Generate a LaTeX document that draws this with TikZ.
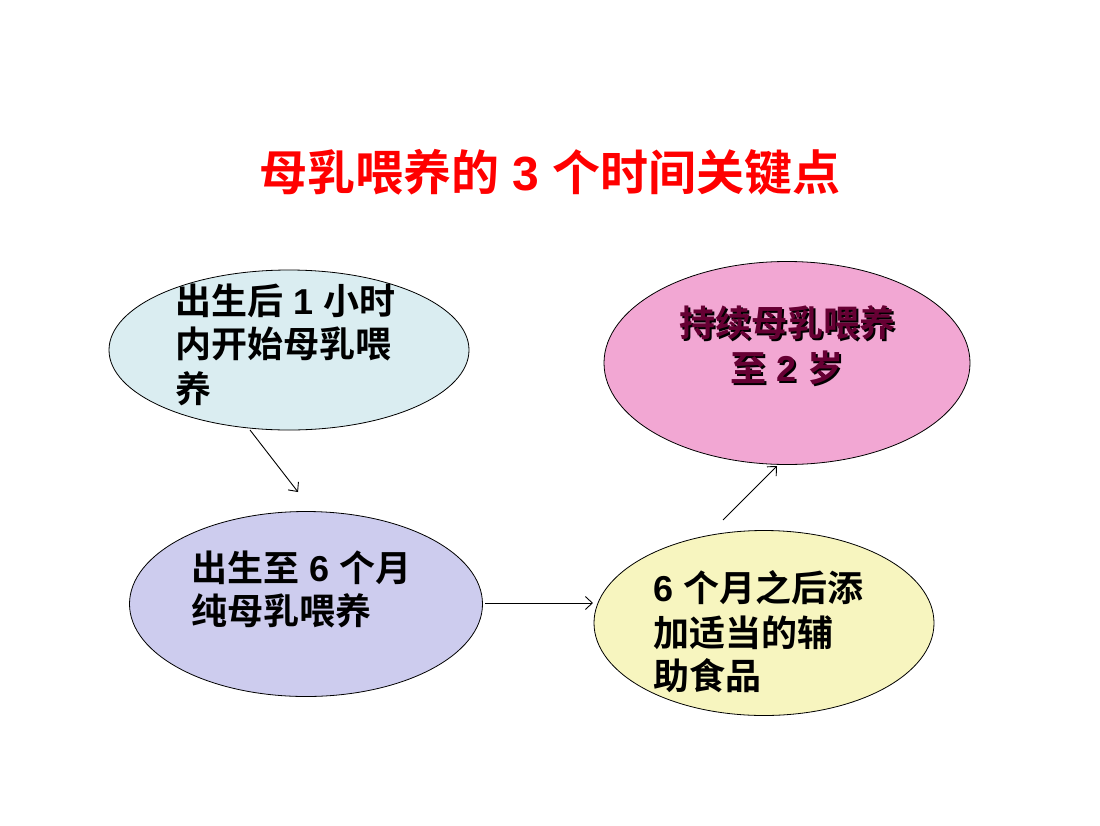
\documentclass[tikz,border=0pt]{standalone}
\usepackage{fontspec}
\setmainfont{Noto Sans CJK SC}[BoldFont=* Bold]
\newfontfamily\latn{Liberation Sans}
\newcommand{\dg}[1]{{\latn\bfseries #1}}
\usetikzlibrary{shapes.geometric,arrows.meta}
\definecolor{cblue}{HTML}{DAEDF1}
\definecolor{clav}{HTML}{CDCCEE}
\definecolor{cyel}{HTML}{F7F5BF}
\definecolor{cpink}{HTML}{F2A7D3}
\definecolor{cmaroon}{HTML}{660033}
\definecolor{cred}{HTML}{FF0000}
\tikzset{
  bub/.style={ellipse, draw=black, line width=0.8pt, inner sep=0pt},
  body/.style={font=\fontsize{36}{44}\selectfont\bfseries, inner sep=0pt, anchor=base west, text=black},
  pinktxt/.style={font=\fontsize{36}{44}\selectfont\bfseries, inner sep=0pt, anchor=base},
  conn/.style={-{Straight Barb[length=7pt,width=13pt]}, line width=0.9pt, black}
}
\begin{document}
\begin{tikzpicture}[x=1pt,y=-1pt]
\useasboundingbox[fill=white] (0,0) rectangle (1100,825);
% title
\node[font=\fontsize{48}{56}\selectfont\bfseries, text=cred, inner sep=0pt, anchor=base] (title) at (550,190) {母乳喂养的\dg{ 3 }个时间关键点};
% ellipses
\node[bub, fill=cblue, minimum width=360pt, minimum height=160pt] (e1) at (289,350) {};
\node[bub, fill=clav, minimum width=353pt, minimum height=185pt] (e2) at (306,604) {};
\node[bub, fill=cyel, minimum width=340pt, minimum height=185pt] (e3) at (764,623) {};
\node[bub, fill=cpink, minimum width=366pt, minimum height=203pt] (e4) at (787,363) {};
% texts
\node[body] (t1a) at (175,314) {出生后\dg{ 1 }小时};
\node[body] (t1b) at (175,357) {内开始母乳喂};
\node[body] (t1c) at (175,402) {养};
\node[body] (t2a) at (191,581) {出生至\dg{ 6 }个月};
\node[body] (t2b) at (191,624) {纯母乳喂养};
\node[body] (t3a) at (653,601) {\dg{6 }个月之后添};
\node[body] (t3b) at (653,646) {加适当的辅};
\node[body] (t3c) at (653,689) {助食品};
\node[pinktxt, text=black] (t4as) at (789,338) {持续母乳喂养};
\node[pinktxt, text=black] (t4bs) at (789,383) {至\dg{ 2 }岁};
\node[pinktxt, text=cmaroon] (t4a) at (787,336) {持续母乳喂养};
\node[pinktxt, text=cmaroon] (t4b) at (787,381) {至\dg{ 2 }岁};
% connector ends
\coordinate (a1s) at (250,430);
\coordinate (a1e) at (298,492);
\coordinate (a2s) at (485,603);
\coordinate (a2e) at (593,603);
\coordinate (a3s) at (723,520);
\coordinate (a3e) at (777,466);
\draw[conn] (a1s) -- (a1e);
\draw[conn] (a2s) -- (a2e);
\draw[conn] (a3s) -- (a3e);
\end{tikzpicture}
\end{document}
